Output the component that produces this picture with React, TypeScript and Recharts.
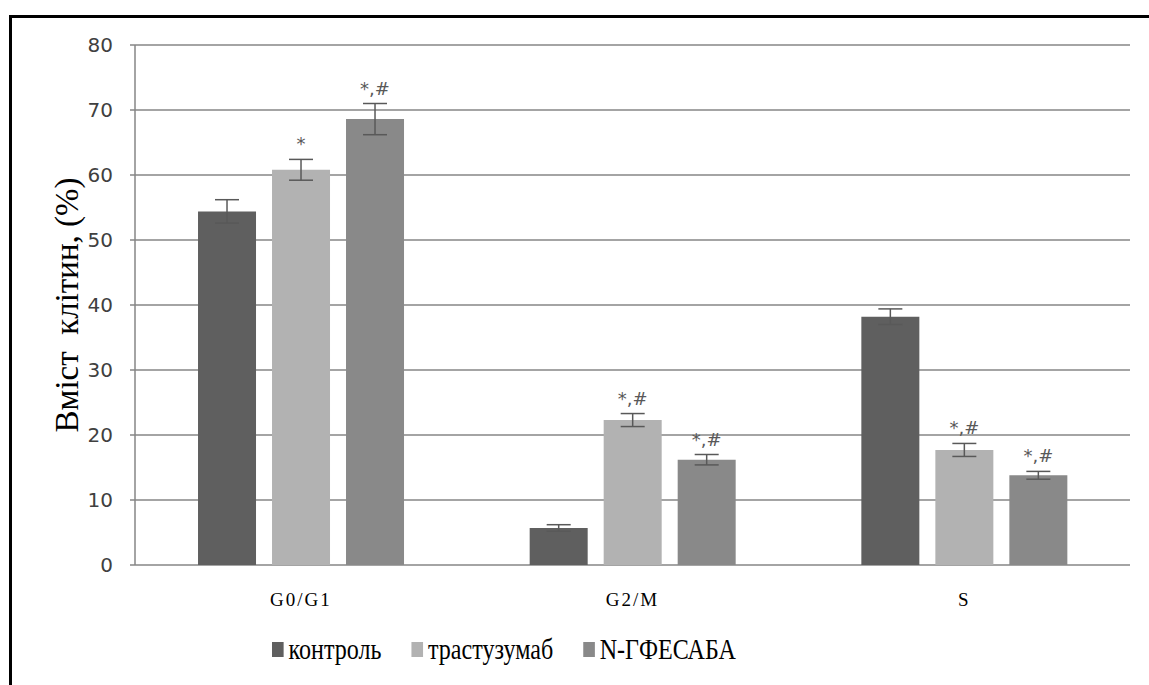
import React from "react";
import { BarChart, Bar, XAxis, YAxis, CartesianGrid, ErrorBar, LabelList } from "recharts";

// cell cycle phases
const phases = ["G0/G1", "G2/M", "S"];

// mean % of cells and their errors, per group
const controlMean = [54.4, 5.7, 38.2];
const controlErr = [1.8, 0.5, 1.2];
const trastMean = [60.8, 22.3, 17.7];
const trastErr = [1.6, 1.0, 1.0];
const ngfMean = [68.6, 16.2, 13.8];
const ngfErr = [2.4, 0.8, 0.6];

// significance marks over the bars
const controlMarks = ["", "", ""];
const trastMarks = ["*", "*,#", "*,#"];
const ngfMarks = ["*,#", "*,#", "*,#"];

const yTicks = [0, 10, 20, 30, 40, 50, 60, 70, 80];
const edgeTicks = [0, 1, 2, 3];

const series = [
  { key: "control", name: "контроль", color: "#5f5f5f", mean: controlMean, err: controlErr, marks: controlMarks },
  { key: "trast", name: "трастузумаб", color: "#b2b2b2", mean: trastMean, err: trastErr, marks: trastMarks },
  { key: "ngf", name: "N-ГФЕСАБА", color: "#898989", mean: ngfMean, err: ngfErr, marks: ngfMarks },
];

const data = phases.map((phase, i) => {
  const row: Record<string, string | number> = { phase };
  series.forEach((s) => {
    row[s.key] = s.mean[i];
    row[s.key + "Err"] = s.err[i];
    row[s.key + "Mark"] = s.marks[i];
  });
  return row;
});

const GRID = "#868686";
const SERIF = "'Times New Roman', 'Liberation Serif', 'DejaVu Serif', serif";

// puts the mark just above the error bar cap
const markLabel = (mean: number[], err: number[]) => (props: any) => {
  const vb = props.viewBox || {};
  const x = props.x ?? vb.x;
  const y = props.y ?? vb.y;
  const width = props.width ?? vb.width;
  const height = props.height ?? vb.height;
  const { value, index } = props;
  if (!value || index == null) return null;
  const pxPerUnit = Math.abs(height) / mean[index];
  const top = y - err[index] * pxPerUnit;
  return (
    <text
      x={x + width / 2}
      y={top - 9}
      textAnchor="middle"
      fontFamily="DejaVu Sans"
      fontSize={18}
      fill="#595959"
    >
      {value}
    </text>
  );
};

const yTitle = (props: any) => {
  const vb = props.viewBox;
  const cx = vb.x + 78;
  const cy = vb.y + vb.height / 2;
  return (
    <text
      x={cx}
      y={cy}
      textAnchor="middle"
      style={{ fontFamily: SERIF, whiteSpace: "pre" }}
      fontSize={33}
      fill="#000"
      transform={`rotate(-90 ${cx} ${cy})`}
    >
      {"Вміст  клітин, (%)"}
    </text>
  );
};

export default function App() {
  return (
    <div
      style={{
        position: "absolute",
        left: 0,
        top: 0,
        width: 1149,
        height: 685,
        overflow: "hidden",
        background: "#fff",
      }}
    >
      <div
        style={{
          position: "absolute",
          left: 9,
          top: 15,
          width: 1200,
          height: 720,
          border: "3px solid #000",
        }}
      />
      <div style={{ position: "absolute", left: 0, top: 0 }}>
        <BarChart
          width={1149}
          height={685}
          data={data}
          margin={{ top: 45, right: 19, left: 0, bottom: 80 }}
          barCategoryGap="19%"
          barGap={16}
        >
          <CartesianGrid vertical={false} stroke={GRID} strokeWidth={1.5} />
          <XAxis
            xAxisId="edges"
            type="number"
            domain={[0, 3]}
            ticks={edgeTicks}
            tick={false}
            height={0}
            axisLine={{ stroke: "#000", strokeWidth: 2 }}
            tickLine={{ stroke: "#000", strokeWidth: 2 }}
            tickSize={8}
          />
          <XAxis
            dataKey="phase"
            height={40}
            axisLine={false}
            tickLine={false}
            tickSize={0}
            tickMargin={28}
            tick={{ fontFamily: SERIF, fontSize: 19, fill: "#000", letterSpacing: 2 }}
          />
          <YAxis
            domain={[0, 80]}
            ticks={yTicks}
            width={135}
            interval={0}
            axisLine={{ stroke: GRID, strokeWidth: 1.5 }}
            tickLine={{ stroke: GRID, strokeWidth: 1.5 }}
            tickSize={5}
            tickMargin={17}
            tick={{ fontFamily: "DejaVu Sans", fontSize: 20, fill: "#404040" }}
            label={yTitle}
          />
          <YAxis
            yAxisId="r"
            orientation="right"
            domain={[0, 80]}
            width={0}
            tick={false}
            tickLine={false}
            axisLine={{ stroke: GRID, strokeWidth: 1.5 }}
          />
          {series.map((s) => (
            <Bar key={s.key} dataKey={s.key} name={s.name} fill={s.color} isAnimationActive={false}>
              <ErrorBar dataKey={s.key + "Err"} width={12} stroke="#595959" strokeWidth={1.5} direction="y" />
              <LabelList dataKey={s.key + "Mark"} content={markLabel(s.mean, s.err)} />
            </Bar>
          ))}
        </BarChart>
      </div>
      {/* legend: narrow serif text, squeezed horizontally */}
      <div
        style={{
          position: "absolute",
          left: 272,
          top: 633,
          display: "flex",
          alignItems: "center",
          fontFamily: SERIF,
          fontSize: 29,
          color: "#000",
          whiteSpace: "nowrap",
          transform: "scaleX(0.83)",
          transformOrigin: "0 0",
        }}
      >
        {series.map((s) => (
          <div key={s.key} style={{ display: "flex", alignItems: "center", marginRight: 36 }}>
            <span style={{ display: "inline-block", width: 14, height: 15, background: s.color, marginRight: 6 }} />
            <span>{s.name}</span>
          </div>
        ))}
      </div>
    </div>
  );
}
